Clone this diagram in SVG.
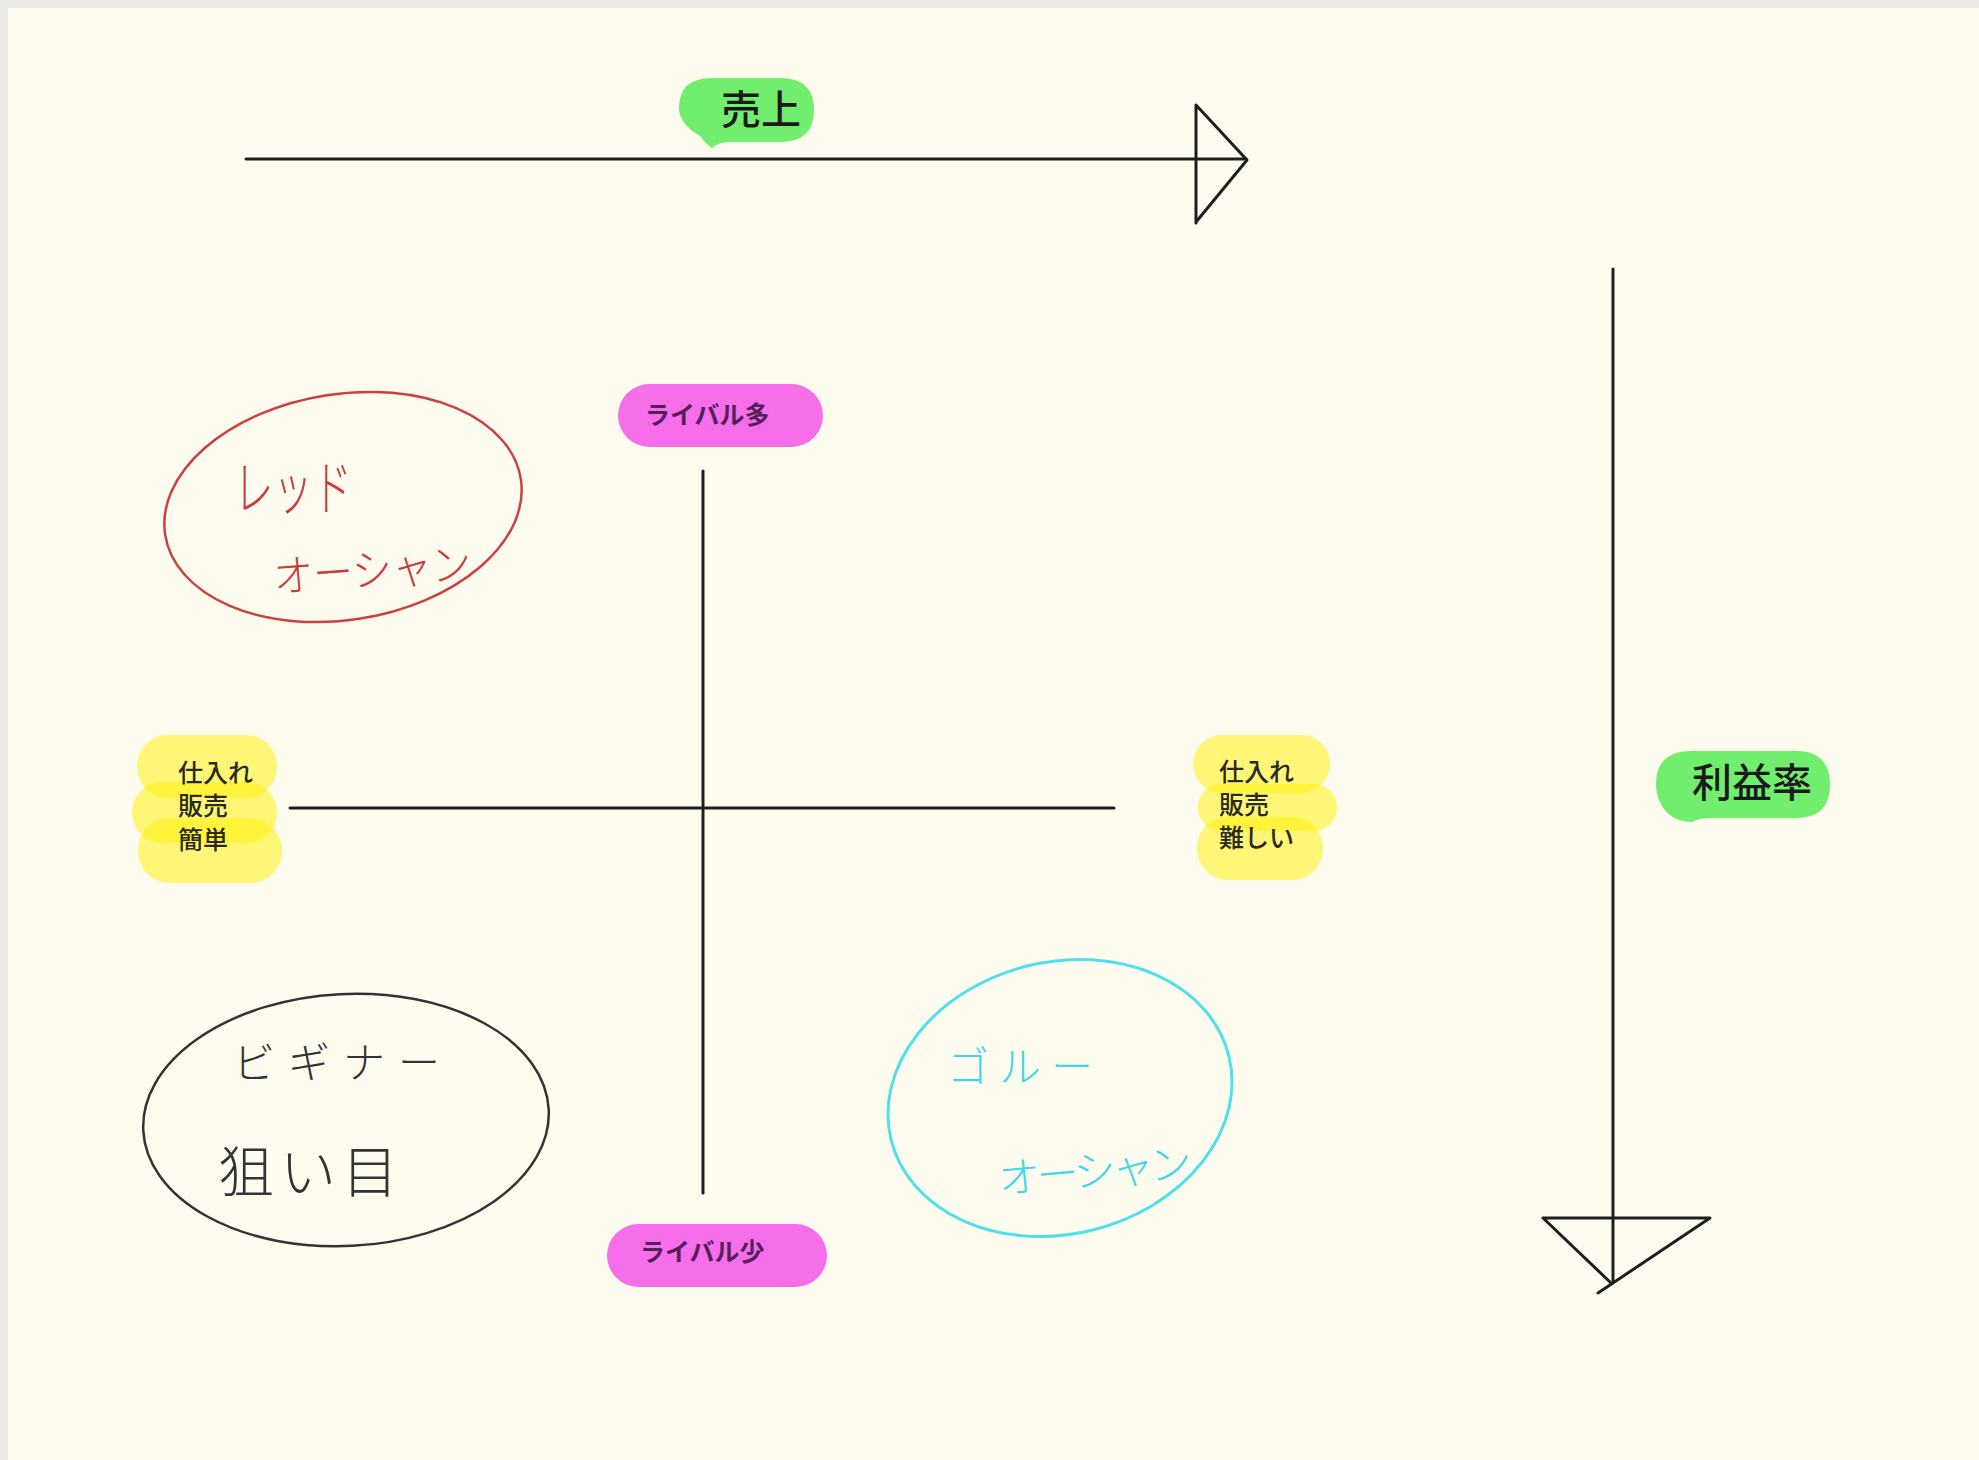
<svg xmlns="http://www.w3.org/2000/svg" width="1979" height="1460" viewBox="0 0 1979 1460">
<style>
.ln{stroke:#1e1e1e;stroke-width:3;fill:none;stroke-linecap:round;stroke-linejoin:round}
.lbl{font-family:"Noto Sans CJK JP","Noto Sans",sans-serif;fill:#1a1a1a}
.pink{fill:#F66EEA}
.pinkt{font-family:"Noto Sans CJK JP",sans-serif;font-weight:700;font-size:25px;fill:#55205a}
.green{fill:#72EE6E}
.yel{fill:#FFF000;opacity:0.5}
.yt{font-family:"Noto Sans CJK JP",sans-serif;font-weight:500;font-size:25px;fill:#2a2a1a}
.hand{font-family:"Noto Sans CJK JP",sans-serif;font-weight:300}
</style>
<rect width="1979" height="1460" fill="#ECEAE4"/>
<rect x="8" y="8" width="1971" height="1452" fill="#FEFCEE"/>

<g id="connectors">
  <line class="ln" x1="246" y1="159" x2="1246" y2="159"/>
  <path class="ln" d="M1196 105 L1196 223 M1196 105 L1247 160 L1196 222"/>
  <line class="ln" x1="1613" y1="269" x2="1613" y2="1281"/>
  <path class="ln" d="M1543 1218 L1710 1218 L1598 1293 M1543 1218 L1610 1282"/>
  <line class="ln" x1="703" y1="471" x2="703" y2="1193" stroke-width="2.5"/>
  <line class="ln" x1="290" y1="808" x2="1114" y2="808" stroke-width="2.5"/>
</g>

<g id="uriage">
  <path class="green" d="M712 78 L780 78 Q814 78 814 110 Q814 142 780 142 L730 142 Q718 142 712 148 Q704 142 700 136 Q679 124 679 108 Q679 78 712 78 Z"/>
  <text class="lbl" x="761" y="124" font-size="40" font-weight="500" text-anchor="middle">売上</text>
</g>

<g id="riekiritsu">
  <path class="green" d="M1692 751 L1796 751 Q1830 751 1830 785 Q1830 818 1796 818 L1710 818 Q1700 818 1692 822 Q1672 822 1662 806 Q1656 796 1656 784 Q1656 751 1692 751 Z"/>
  <text class="lbl" x="1752" y="797" font-size="40" font-weight="500" text-anchor="middle">利益率</text>
</g>

<g id="rival-many">
  <rect class="pink" x="618" y="384" width="205" height="63" rx="31.5"/>
  <text class="pinkt" x="645" y="424">ライバル多</text>
</g>

<g id="rival-few">
  <rect class="pink" x="607" y="1224" width="220" height="63" rx="31.5"/>
  <text class="pinkt" x="640" y="1261">ライバル少</text>
</g>

<g id="easy">
  <rect class="yel" x="137" y="735" width="140" height="63" rx="31"/>
  <rect class="yel" x="132" y="782" width="145" height="61" rx="30"/>
  <rect class="yel" x="138" y="818" width="144" height="65" rx="32"/>
  <text class="yt" x="178" y="782">仕入れ</text>
  <text class="yt" x="178" y="815">販売</text>
  <text class="yt" x="178" y="849">簡単</text>
</g>

<g id="hard">
  <rect class="yel" x="1193" y="735" width="137" height="58" rx="29"/>
  <rect class="yel" x="1198" y="784" width="139" height="47" rx="23"/>
  <rect class="yel" x="1197" y="817" width="126" height="63" rx="31"/>
  <text class="yt" x="1219" y="781">仕入れ</text>
  <text class="yt" x="1219" y="814">販売</text>
  <text class="yt" x="1219" y="847">難しい</text>
</g>

<g id="red-ocean">
  <ellipse cx="343" cy="507" rx="180" ry="113" transform="rotate(-9 343 507)" fill="none" stroke="#CC4040" stroke-width="2.5"/>
  <text class="hand" x="234" y="510" font-size="60" fill="#CC3A3A" textLength="118" lengthAdjust="spacingAndGlyphs">レッド</text>
  <text class="hand" x="273" y="586" font-size="44" fill="#CC3A3A" textLength="198" lengthAdjust="spacingAndGlyphs" transform="rotate(-4 370 565)">オーシャン</text>
</g>

<g id="beginner">
  <ellipse cx="346" cy="1120" rx="203" ry="126" transform="rotate(-3 346 1120)" fill="none" stroke="#333333" stroke-width="2.5"/>
  <text class="hand" x="233" y="1078" font-size="42" fill="#333333" textLength="207" lengthAdjust="spacing">ビギナー</text>
  <text class="hand" x="218" y="1192" font-size="56" fill="#333333" textLength="180" lengthAdjust="spacing">狙い目</text>
</g>

<g id="blue-ocean">
  <ellipse cx="1060" cy="1098" rx="174" ry="136" transform="rotate(-14 1060 1098)" fill="none" stroke="#4FE0EA" stroke-width="3"/>
  <text class="hand" x="947" y="1082" font-size="42" fill="#40D8E6" textLength="146" lengthAdjust="spacing">ゴルー</text>
  <text class="hand" x="997" y="1186" font-size="42" fill="#40D8E6" textLength="194" lengthAdjust="spacing" transform="rotate(-5 1094 1160)">オーシャン</text>
</g>
</svg>
